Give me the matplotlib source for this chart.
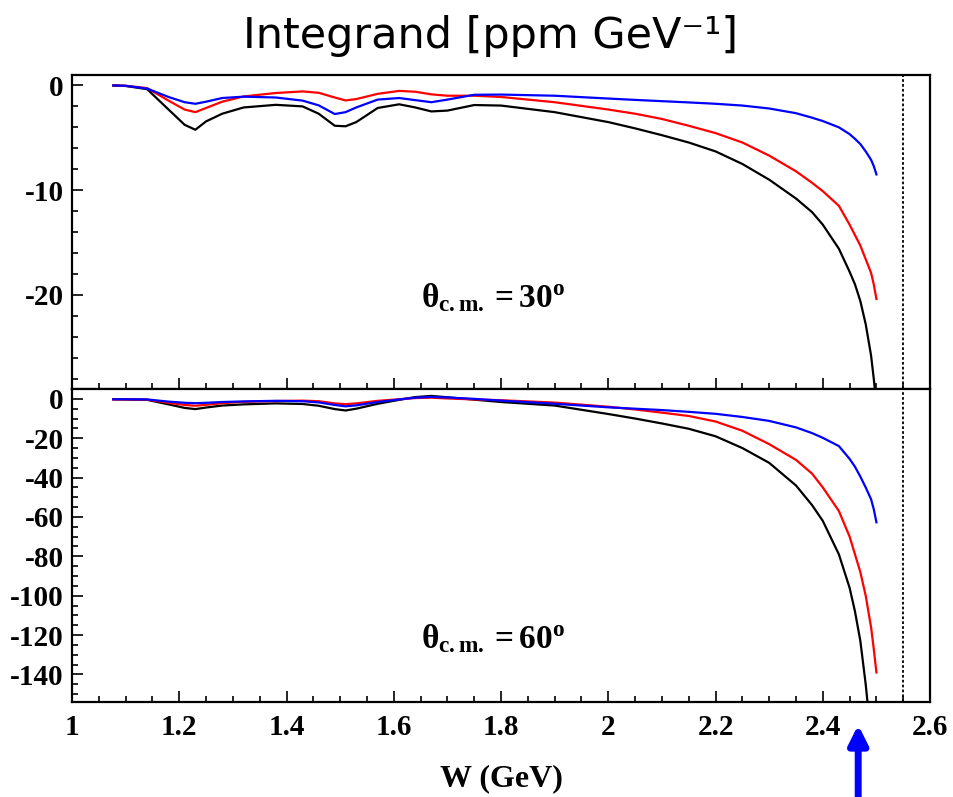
import matplotlib
matplotlib.use('Agg')
import matplotlib.pyplot as plt
from matplotlib.ticker import MultipleLocator, FormatStrFormatter

plt.rcParams['axes.unicode_minus'] = False
plt.rcParams['mathtext.fontset'] = 'custom'
plt.rcParams['mathtext.rm'] = 'Liberation Serif:bold'
plt.rcParams['mathtext.it'] = 'Liberation Serif:bold'
plt.rcParams['mathtext.bf'] = 'Liberation Serif:bold'

# W grid (GeV), shared by all curves
w = [1.077, 1.10, 1.14, 1.18, 1.21, 1.23, 1.25, 1.28, 1.32, 1.38, 1.43, 1.46,
     1.49, 1.51, 1.53, 1.57, 1.61, 1.64, 1.67, 1.70, 1.75, 1.80, 1.90, 2.00,
     2.05, 2.10, 2.15, 2.20, 2.25, 2.30, 2.35, 2.38, 2.40, 2.43, 2.45, 2.46,
     2.47, 2.48, 2.49, 2.495, 2.50]

# theta_cm = 30 deg
black_30 = [0, -0.05, -0.35, -2.3, -3.76, -4.23, -3.43, -2.7, -2.1, -1.85, -2.0, -2.7,
            -3.85, -3.9, -3.5, -2.15, -1.8, -2.1, -2.48, -2.4, -1.87, -1.92, -2.55, -3.5,
            -4.1, -4.75, -5.45, -6.3, -7.5, -9.0, -10.8, -12.1, -13.3, -15.6, -17.8, -19.0,
            -20.6, -22.8, -25.8, -28.0, -30.5]
red_30 = [0, -0.03, -0.25, -1.45, -2.3, -2.55, -2.15, -1.55, -1.05, -0.72, -0.57, -0.7,
          -1.15, -1.43, -1.3, -0.8, -0.52, -0.6, -0.85, -0.98, -0.98, -1.1, -1.6, -2.3,
          -2.7, -3.2, -3.85, -4.55, -5.45, -6.7, -8.2, -9.3, -10.1, -11.5, -13.3, -14.3,
          -15.3, -16.6, -17.9, -19.0, -20.4]
blue_30 = [0, -0.03, -0.3, -1.1, -1.6, -1.75, -1.55, -1.2, -1.07, -1.15, -1.45, -1.9,
           -2.73, -2.55, -2.1, -1.35, -1.2, -1.4, -1.6, -1.35, -0.89, -0.87, -0.98, -1.25,
           -1.38, -1.5, -1.62, -1.75, -1.92, -2.2, -2.65, -3.08, -3.4, -4.0, -4.65, -5.1,
           -5.6, -6.3, -7.1, -7.7, -8.5]

# theta_cm = 60 deg
black_60 = [-0.2, -0.3, -0.5, -2.8, -4.6, -5.2, -4.4, -3.4, -2.8, -2.3, -2.6, -3.5,
            -5.2, -5.9, -5.0, -2.5, -0.5, 0.9, 1.5, 0.8, -0.4, -1.6, -3.4, -7.7,
            -10.0, -12.5, -15.2, -19.0, -25.0, -32.5, -44.0, -54.0, -62.0, -79.0, -96.0, -108.0,
            -123.0, -145.0, -172.0, -186.0, -200.0]
red_60 = [-0.3, -0.3, -0.4, -2.0, -3.1, -3.5, -3.0, -2.2, -1.5, -1.1, -0.9, -1.2,
          -2.3, -2.7, -2.3, -1.0, -0.2, 0.4, 0.6, 0.2, -0.3, -0.7, -1.9, -4.0,
          -5.4, -7.0, -8.7, -11.5, -16.2, -23.0, -31.0, -38.0, -45.0, -57.0, -70.0, -79.0,
          -88.0, -100.0, -116.0, -127.0, -139.0]
blue_60 = [-0.2, -0.2, -0.3, -1.4, -2.0, -2.2, -2.0, -1.6, -1.3, -1.0, -1.2, -1.8,
           -3.1, -3.8, -3.3, -1.6, -0.3, 0.6, 1.0, 0.7, 0.0, -0.9, -2.5, -4.3,
           -5.0, -5.7, -6.6, -7.6, -9.2, -11.2, -14.5, -17.4, -19.8, -24.0, -30.5, -34.5,
           -39.5, -45.0, -51.0, -56.0, -62.7]

w_limit = 2.55
w_arrow = 2.466

tick_font = {'family': 'Liberation Serif', 'weight': 'bold', 'size': 21}

fig = plt.figure(figsize=(9.54, 7.97), dpi=100)
ax1 = fig.add_axes([0.0755, 0.5119, 0.8994, 0.394])
ax2 = fig.add_axes([0.0755, 0.1192, 0.8994, 0.3927], sharex=ax1)

for ax, curves in [(ax1, (black_30, red_30, blue_30)), (ax2, (black_60, red_60, blue_60))]:
    for vals, col in zip(curves, ['black', 'red', 'blue']):
        ax.plot(w, vals, color=col, lw=1.6)
    ax.axvline(w_limit, color='black', lw=1.3, ls=(0, (1.5, 1.2)))
    ax.tick_params(which='both', direction='in', top=False, right=False, width=1.2)
    ax.tick_params(which='major', length=8)
    ax.tick_params(which='minor', length=4.5)
    for s in ax.spines.values():
        s.set_linewidth(1.6)

ax1.set_xlim(1, 2.6)
ax1.xaxis.set_major_locator(MultipleLocator(0.2))
ax1.xaxis.set_minor_locator(MultipleLocator(0.05))
ax1.tick_params(labelbottom=False)

ax1.set_ylim(-29, 1)
ax1.yaxis.set_major_locator(MultipleLocator(10))
ax1.yaxis.set_minor_locator(MultipleLocator(2))
ax2.set_ylim(-154, 5)
ax2.yaxis.set_major_locator(MultipleLocator(20))
ax2.yaxis.set_minor_locator(MultipleLocator(5))
ax2.xaxis.set_major_formatter(FormatStrFormatter('%g'))

for ax in (ax1, ax2):
    for lab in ax.get_yticklabels() + ax.get_xticklabels():
        lab.set_fontproperties(tick_font)
ax2.tick_params(axis='x', pad=9)
ax1.tick_params(axis='y', pad=6)
ax2.tick_params(axis='y', pad=6)

ax1.text(1.785, -20.3, r'$\theta_{\rm c.m.} = 30^{\rm o}$', fontsize=24,
         ha='center', va='center')
ax2.text(1.785, -122, r'$\theta_{\rm c.m.} = 60^{\rm o}$', fontsize=24,
         ha='center', va='center')

ax2.set_xlabel('W (GeV)', fontfamily='Liberation Serif', fontweight='bold',
               fontsize=23, labelpad=16)

fig.text(0.514, 0.955, 'Integrand [ppm GeV⁻¹]', ha='center', va='center',
         fontsize=31, fontfamily='DejaVu Sans')

ax2.annotate('', xy=(w_arrow, 0.094), xytext=(w_arrow, -0.01),
             xycoords=('data', 'figure fraction'),
             arrowprops=dict(arrowstyle='-|>', color='blue', lw=5,
                             mutation_scale=28), annotation_clip=False)

fig.savefig('out.png', dpi=100)
